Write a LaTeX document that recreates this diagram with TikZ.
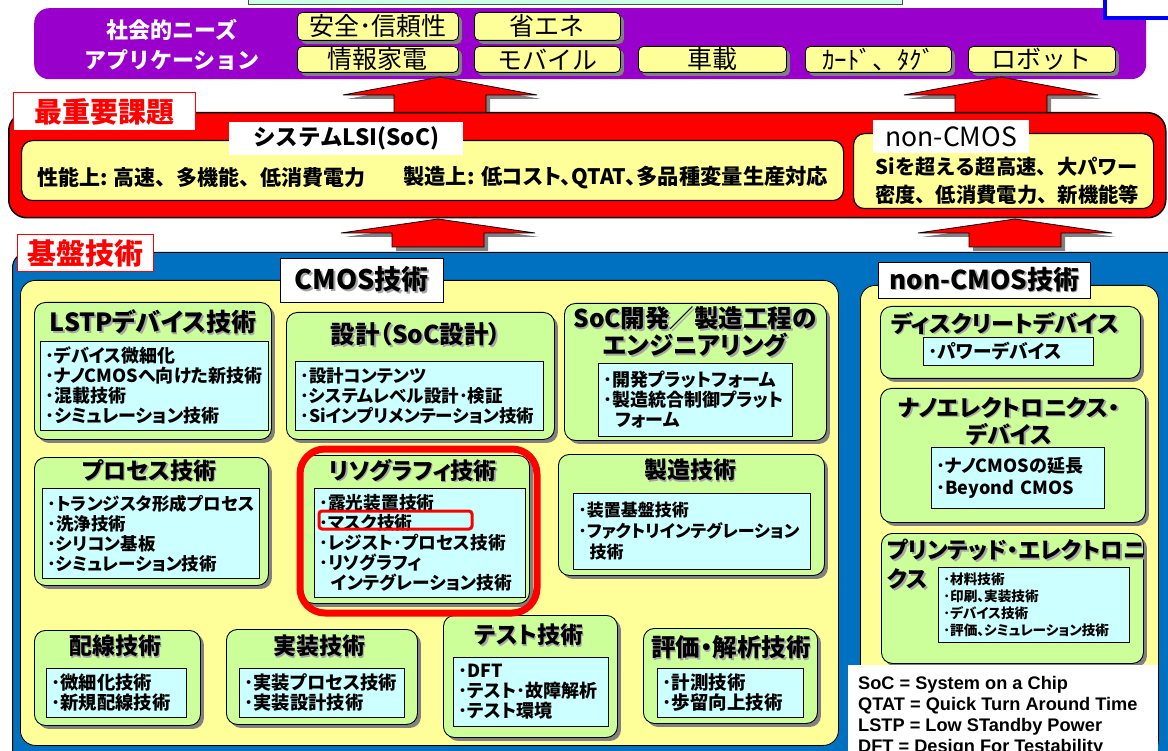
\documentclass[tikz,border=0pt]{standalone}
\usepackage{fontspec}
\setmainfont{Noto Sans CJK JP}[RawFeature=+palt]
\newfontfamily\monojp{Noto Sans CJK JP}
\newfontfamily\legendfont{Liberation Sans}
\usetikzlibrary{shadows}
\definecolor{purp}{HTML}{9900CC}
\definecolor{lyel}{HTML}{FFFF99}
\definecolor{lgrn}{HTML}{CCFF99}
\definecolor{lcyn}{HTML}{CCFFFF}
\definecolor{bblue}{HTML}{0070C0}
\definecolor{mint}{HTML}{CCFFE6}
\definecolor{shd}{HTML}{808080}
\newcommand\shtxt[1]{\makebox[0pt][l]{\kern1.6pt\raisebox{-1.6pt}{\color{black!35}#1}}#1}
\newcommand\fsz[2]{\bfseries\fontsize{#1}{#2}\selectfont}
\tikzset{
  box/.style={anchor=north west, inner sep=0pt},
  sshadow/.style={drop shadow={shadow xshift=3.5pt, shadow yshift=-3.5pt, fill=shd, opacity=1}},
  btn/.style={box, draw=black, line width=0.8pt, fill=lyel, rounded corners=5pt, sshadow,
    font=\monojp\fontsize{25}{25}\selectfont},
  gbox/.style={box, draw=black, line width=0.9pt, fill=lgrn, rounded corners=11pt, sshadow},
  cbox/.style={anchor=north west, inner xsep=5pt, inner ysep=0pt, draw=black, line width=0.8pt,
    fill=lcyn, align=left, font=\fsz{18}{20}},
  gtitle/.style={font=\fsz{23}{27}, align=center, inner sep=0pt},
  ybox/.style={box, draw=black, line width=1.2pt, fill=lyel, rounded corners=11pt},
  wlabel/.style={box, fill=white},
  rlabel/.style={box, draw=red, line width=1pt, fill=white, text=red, font=\fsz{28}{28}},
  panel/.style={box, draw=black, line width=0.8pt, fill=lyel, rounded corners=15pt},
  pics/uparrow/.style 2 args={code={
    \fill[shd, shift={(4,4)}] (0,0) -- (97,#1) -- (46,#1) -- (46,#2) -- (-46,#2) -- (-46,#1) -- (-97,#1) -- cycle;
    \draw[black, line width=0.8pt, fill=red] (0,0) -- (97,#1) -- (46,#1) -- (46,#2) -- (-46,#2) -- (-46,#1) -- (-97,#1) -- cycle;
  }}
}
\begin{document}
\begin{tikzpicture}[x=1pt,y=-1pt]
\useasboundingbox (0,0) rectangle (1168,751);

% ---- top strip ----
\node[box, draw=black!70, line width=0.8pt, fill=mint, minimum width=654pt, minimum height=25pt, anchor=south west] (topbox) at (248,5) {};
\node[box, fill=purp, rounded corners=15pt, minimum width=1112pt, minimum height=71pt] (needs) at (34,8) {};
\node[box, draw=blue, line width=4pt, fill=white, minimum width=90pt, minimum height=40pt, anchor=south west] (toprt) at (1103,20) {};
\node[text=white, font=\monojp\fsz{22}{30}, align=center] (needsT) at (172,45) {社会的ニーズ\\アプリケーション};

\node[btn, minimum width=161pt, minimum height=28pt] (b1) at (297,12) {安全･信頼性};
\node[btn, minimum width=146pt, minimum height=28pt] (b2) at (474,12) {省エネ};
\node[btn, minimum width=161pt, minimum height=26pt] (b3) at (297,46) {情報家電};
\node[btn, minimum width=146pt, minimum height=26pt] (b4) at (474,46) {モバイル};
\node[btn, minimum width=148pt, minimum height=26pt] (b5) at (638,46) {車載};
\node[btn, minimum width=146pt, minimum height=26pt] (b6) at (805,46) {ｶｰﾄﾞ、ﾀｸﾞ};
\node[btn, minimum width=147pt, minimum height=26pt] (b7) at (968,46) {ロボット};

\pic at (440,77) {uparrow={18}{36}};
\pic at (1001,77) {uparrow={18}{36}};

% ---- key issues band ----
\node[box, draw=black, line width=1.5pt, fill=red, rounded corners=18pt, minimum width=1157pt, minimum height=105pt] (issue) at (8,112) {};
\node[rlabel, minimum width=182pt, minimum height=38pt] (issueL) at (13,92) {最重要課題};
\node[ybox, minimum width=822pt, minimum height=60pt] (soc) at (21,140) {};
\node[wlabel, minimum width=234pt, minimum height=33pt, font=\monojp\fsz{22.5}{23}] (socL) at (229,122) {システムLSI(SoC)};
\node[anchor=west, inner sep=0pt, font=\monojp\fsz{21}{21}] (perf) at (37,178) {性能上: 高速、多機能、低消費電力};
\node[anchor=west, inner sep=0pt, font=\fsz{21.3}{21}] (mfg) at (403,178) {製造上: 低コスト、QTAT、多品種変量生産対応};
\node[ybox, minimum width=300pt, minimum height=75pt] (ncm) at (853,133) {};
\node[wlabel, minimum width=156pt, minimum height=33pt, font=\fontsize{26.5}{26}\selectfont] (ncmL) at (873,120) {non-CMOS};
\node[align=center, inner sep=0pt, font=\monojp\fsz{20.3}{28}] (ncmT) at (1007,181) {Siを超える超高速、大パワー\\密度、低消費電力、新機能等};

\pic at (438,219) {uparrow={14}{28}};
\pic at (1015,219) {uparrow={14}{28}};

% ---- base technologies ----
\node[box, draw=black, line width=1pt, fill=bblue, rounded corners=15pt, minimum width=1175pt, minimum height=520pt] (base) at (12,252) {};
\node[rlabel, minimum width=136pt, minimum height=37pt, font=\fsz{29}{29}] (baseL) at (17,234) {基盤技術};

\node[panel, minimum width=818pt, minimum height=465pt] (cmos) at (20,280) {};
\node[panel, minimum width=298pt, minimum height=470pt] (noncmos) at (860,285) {};
\node[wlabel, draw=black, line width=0.6pt, minimum width=163pt, minimum height=44pt, font=\fsz{27}{27}] (cmosL) at (280,258) {\shtxt{CMOS技術}};
\node[wlabel, draw=black, line width=0.6pt, minimum width=212pt, minimum height=36pt, font=\fsz{26}{26}] (noncmosL) at (878,262) {\shtxt{non-CMOS技術}};

% LSTP
\node[gbox, minimum width=237pt, minimum height=137pt] (lstp) at (34,302) {};
\node[gtitle, font=\fsz{25}{27}] (lstpT) at (153,323) {\shtxt{LSTPデバイス技術}};
\node[cbox, minimum height=89pt, text width=218pt] (lstpI) at (40,341) {･デバイス微細化\\･ナノCMOSへ向けた新技術\\･混載技術\\･シミュレーション技術};

% design
\node[gbox, minimum width=268pt, minimum height=127pt] (des) at (286,312) {};
\node[gtitle, font=\fsz{24.5}{27}] (desT) at (416,335) {\shtxt{設計（SoC設計）}};
\node[cbox, minimum height=69pt, text width=238pt, font=\fsz{17.5}{20}] (desI) at (295,361) {･設計コンテンツ\\･システムレベル設計･検証\\･Siインプリメンテーション技術};

% SoC engineering
\node[gbox, minimum width=262pt, minimum height=137pt] (eng) at (564,303) {};
\node[gtitle, font=\fsz{24.5}{27}] (engT) at (695,333) {\shtxt{SoC開発／製造工程の}\\\shtxt{エンジニアリング}};
\node[cbox, minimum height=73pt, text width=184pt] (engI) at (598,363) {･開発プラットフォーム\\･製造統合制御プラット\\\ \ フォーム};

% process
\node[gbox, minimum width=234pt, minimum height=128pt] (proc) at (34,457) {};
\node[gtitle] (procT) at (149,471) {\shtxt{プロセス技術}};
\node[cbox, minimum height=90pt, text width=207pt, font=\fsz{17.5}{20}] (procI) at (42,488) {･トランジスタ形成プロセス\\･洗浄技術\\･シリコン基板\\･シミュレーション技術};

% lithography
\node[gbox, minimum width=227pt, minimum height=148pt] (litho) at (302,455) {};
\node[gtitle] (lithoT) at (413,471) {\shtxt{リソグラフィ技術}};
\node[cbox, minimum height=109pt, text width=201pt, font=\fsz{17.7}{20.2}] (lithoI) at (314,488) {･露光装置技術\\･マスク技術\\･レジスト･プロセス技術\\･リソグラフィ\\\ \ インテグレーション技術};

% manufacturing
\node[gbox, minimum width=266pt, minimum height=121pt] (mfgt) at (558,454) {};
\node[gtitle] (mfgtT) at (690,471) {\shtxt{製造技術}};
\node[cbox, minimum height=76pt, text width=227pt, font=\fsz{17}{21}] (mfgtI) at (573,493) {･装置基盤技術\\･ファクトリインテグレーション\\\ \ 技術};

% wiring
\node[gbox, minimum width=166pt, minimum height=95pt] (wire) at (34,630) {};
\node[gtitle] (wireT) at (115,647) {\shtxt{配線技術}};
\node[cbox, minimum height=49pt, text width=130pt, font=\fsz{18.3}{20}] (wireI) at (46,668) {･微細化技術\\･新規配線技術};

% packaging
\node[gbox, minimum width=191pt, minimum height=95pt] (pkg) at (226,629) {};
\node[gtitle] (pkgT) at (319,647) {\shtxt{実装技術}};
\node[cbox, minimum height=49pt, text width=155pt, font=\fsz{18.3}{20}] (pkgI) at (239,668) {･実装プロセス技術\\･実装設計技術};

% test
\node[gbox, minimum width=174pt, minimum height=122pt] (test) at (443,615) {};
\node[gtitle] (testT) at (529,636) {\shtxt{テスト技術}};
\node[cbox, minimum height=69pt, text width=145pt] (testI) at (453,657) {･DFT\\･テスト･故障解析\\･テスト環境};

% evaluation
\node[gbox, minimum width=174pt, minimum height=95pt] (eval) at (643,628) {};
\node[gtitle, font=\fsz{24.5}{27}] (evalT) at (731,648) {\shtxt{評価・解析技術}};
\node[cbox, minimum height=49pt, text width=136pt, font=\fsz{18.5}{20}] (evalI) at (657,668) {･計測技術\\･歩留向上技術};

% lithography highlight
\node[box, draw=red, line width=7pt, rounded corners=25pt, minimum width=237pt, minimum height=164pt] (hl) at (296.5,445.5) {};
\node[box, draw=red, line width=3pt, rounded corners=3pt, minimum width=153pt, minimum height=18pt] (hlmask) at (317.5,509.5) {};

% non-CMOS boxes
\node[gbox, minimum width=260pt, minimum height=72pt] (disc) at (880,306) {};
\node[gtitle] (discT) at (1005,324) {\shtxt{ディスクリートデバイス}};
\node[cbox, minimum height=28pt, text width=160pt, font=\fsz{18.7}{20}] (discI) at (923,337) {･パワーデバイス};

\node[gbox, minimum width=265pt, minimum height=134pt] (nano) at (880,388) {};
\node[gtitle] (nanoT) at (1009,422) {\shtxt{ナノエレクトロニクス・}\\\shtxt{デバイス}};
\node[cbox, minimum height=61pt, text width=163pt, font=\fsz{18}{22}] (nanoI) at (931,447) {･ナノCMOSの延長\\･Beyond CMOS};

\node[gbox, minimum width=262pt, minimum height=130pt] (prt) at (881,533) {};
\node[gtitle, anchor=west, font=\fsz{22.5}{27}] (prtT1) at (887,551) {\shtxt{プリンテッド・エレクトロニ}};
\node[gtitle, anchor=west, font=\fsz{22.5}{27}] (prtT2) at (887,580) {\shtxt{クス}};
\node[cbox, minimum height=75pt, text width=181pt, font=\fsz{13.6}{16.8}] (prtI) at (938,567) {･材料技術\\･印刷、実装技術\\･デバイス技術\\･評価、シミュレーション技術};

% legend
\node[box, fill=white, minimum width=310pt, minimum height=100pt] (legend) at (848,665) {};
\node[anchor=north west, inner sep=0pt, align=left, font=\legendfont\bfseries\fontsize{18.2}{21}\selectfont] (legT) at (858,676) {SoC = System on a Chip\\QTAT = Quick Turn Around Time\\LSTP = Low STandby Power\\DFT = Design For Testability};
\end{tikzpicture}
\end{document}
